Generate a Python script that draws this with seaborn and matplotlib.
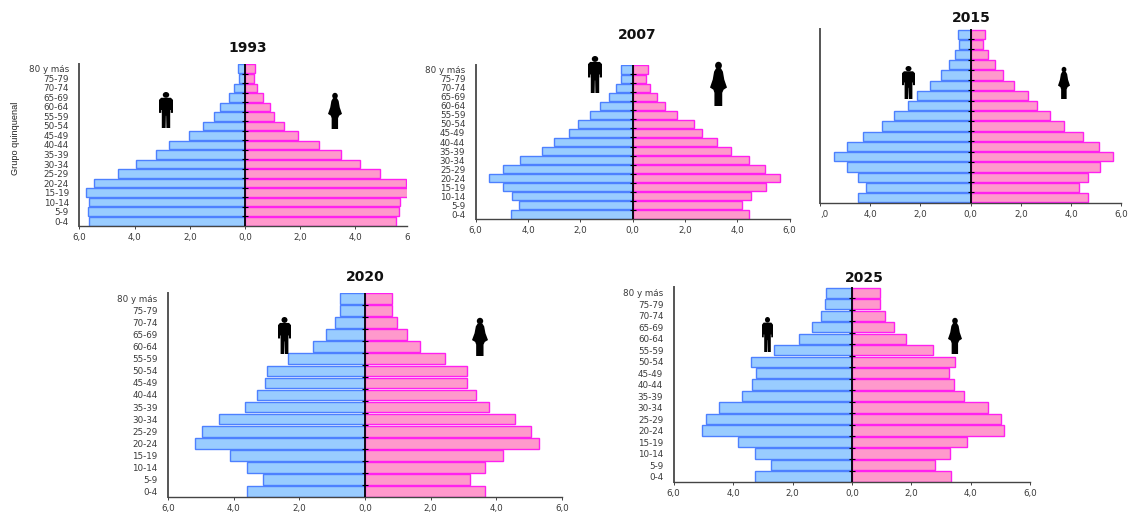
import matplotlib
matplotlib.use("Agg")
import matplotlib.pyplot as plt
import seaborn as sns
import pandas as pd
from matplotlib.patches import Polygon, Ellipse
from matplotlib.transforms import Affine2D

ages = ["80 y más", "75-79", "70-74", "65-69", "60-64", "55-59", "50-54", "45-49", "40-44",
        "35-39", "30-34", "25-29", "20-24", "15-19", "10-14", "5-9", "0-4"]

male_1993 = [0.25, 0.23, 0.39, 0.59, 0.89, 1.11, 1.53, 2.02, 2.75, 3.22, 3.96, 4.59, 5.47, 5.76, 5.64, 5.68, 5.64]
female_1993 = [0.37, 0.31, 0.43, 0.64, 0.89, 1.06, 1.43, 1.91, 2.69, 3.49, 4.17, 4.90, 5.82, 5.95, 5.62, 5.57, 5.47]
male_2007 = [0.44, 0.46, 0.63, 0.90, 1.24, 1.63, 2.09, 2.43, 2.99, 3.48, 4.30, 4.94, 5.49, 4.96, 4.60, 4.34, 4.65]
female_2007 = [0.59, 0.51, 0.67, 0.91, 1.24, 1.68, 2.34, 2.66, 3.23, 3.76, 4.46, 5.04, 5.62, 5.09, 4.54, 4.16, 4.46]
male_2015 = [0.50, 0.46, 0.62, 0.86, 1.20, 1.62, 2.14, 2.51, 3.04, 3.55, 4.30, 4.91, 5.44, 4.94, 4.49, 4.18, 4.47]
female_2015 = [0.57, 0.50, 0.69, 0.96, 1.27, 1.71, 2.27, 2.63, 3.17, 3.70, 4.49, 5.10, 5.68, 5.13, 4.67, 4.33, 4.66]
male_2020 = [0.77, 0.76, 0.91, 1.20, 1.59, 2.33, 3.00, 3.04, 3.29, 3.67, 4.45, 4.95, 5.19, 4.12, 3.58, 3.10, 3.58]
female_2020 = [0.83, 0.83, 0.97, 1.29, 1.69, 2.44, 3.11, 3.12, 3.39, 3.78, 4.56, 5.07, 5.29, 4.21, 3.67, 3.19, 3.67]
male_2025 = [0.89, 0.92, 1.05, 1.36, 1.77, 2.61, 3.39, 3.23, 3.35, 3.70, 4.48, 4.90, 5.04, 3.82, 3.25, 2.73, 3.26]
female_2025 = [0.95, 0.95, 1.11, 1.43, 1.83, 2.74, 3.45, 3.28, 3.42, 3.78, 4.57, 5.00, 5.12, 3.87, 3.30, 2.80, 3.32]

W, H = 1131, 512
sns.set_theme(style="white")
plt.rcParams["font.family"] = ["DejaVu Sans"]
fig = plt.figure(figsize=(W / 100, H / 100), dpi=100, facecolor="white")
px = Affine2D().scale(1 / W, -1 / H).translate(0, 1) + fig.transFigure

MALE_FILL, MALE_EDGE = "#99CCFF", "#4D80FF"
FEMALE_FILL, FEMALE_EDGE = "#FF99CC", "#FF20F0"
TXT = "#3a3a3a"
FONT = 6.3


def man(x0, x1, y0, y1):
    w, h = x1 - x0, y1 - y0
    pts = [(.15, .16), (.85, .16), (1, .22), (1, .58), (.84, .58), (.84, .50), (.80, .50), (.80, 1), (.53, 1),
           (.51, .66), (.49, .66), (.47, 1), (.20, 1), (.20, .50), (.16, .50), (.16, .58), (0, .58), (0, .22)]
    fig.add_artist(Polygon([(x0 + a * w, y0 + b * h) for a, b in pts], closed=True, fc="black", ec="none", transform=px))
    fig.add_artist(Ellipse((x0 + .5 * w, y0 + .08 * h), .46 * w, .16 * h, fc="black", ec="none", transform=px))


def woman(x0, x1, y0, y1):
    w, h = x1 - x0, y1 - y0
    pts = [(.36, .14), (.64, .14), (.76, .22), (.84, .40), (1, .58), (.80, .63), (.72, .70), (.72, 1), (.26, 1),
           (.26, .70), (.20, .63), (0, .58), (.16, .40), (.24, .22)]
    fig.add_artist(Polygon([(x0 + a * w, y0 + b * h) for a, b in pts], closed=True, fc="black", ec="none", transform=px))
    fig.add_artist(Ellipse((x0 + .5 * w, y0 + .08 * h), .40 * w, .17 * h, fc="black", ec="none", transform=px))


def pyramid(male, female, left, center, top, bottom, xmax=6.0, show_y=True):
    unit = (center - left) / 6.0
    x_right = center + xmax * unit
    ax = fig.add_axes([left / W, 1 - bottom / H, (x_right - left) / W, (bottom - top) / H])
    df = pd.DataFrame({"age": ages * 2,
                       "value": [-v for v in male] + list(female),
                       "sex": ["H"] * len(ages) + ["M"] * len(ages)})
    sns.barplot(data=df, y="age", x="value", hue="sex", order=ages, dodge=False, orient="h", ax=ax,
                palette={"H": MALE_FILL, "M": FEMALE_FILL}, legend=False, width=0.9,
                saturation=1, linewidth=0)
    n = len(ages)
    for patch, color in zip(ax.patches, [MALE_EDGE] * n + [FEMALE_EDGE] * n):
        patch.set_edgecolor(color)
        patch.set_linewidth(1.0)
    ax.set_xlim(-6, xmax)
    ax.set_ylim(n - 0.5, -0.5)
    ax.set_xlabel("")
    ax.set_ylabel("")
    sns.despine(ax=ax)
    ax.spines["left"].set_color("#555555")
    ax.spines["left"].set_linewidth(1.4)
    ax.spines["bottom"].set_color("#444444")
    ax.spines["bottom"].set_linewidth(1.0)
    ax.axvline(0, color="black", lw=1.3, zorder=5)
    ax.plot([0] * (n - 1), [i + 0.5 for i in range(n - 1)], ls="none", marker="_", ms=4, mew=0.8,
            color="black", zorder=6)
    ticks = [t for t in (-6, -4, -2, 0, 2, 4, 6) if t <= xmax]
    ax.set_xticks(ticks)
    ax.set_xticklabels([f"{abs(t):.1f}".replace(".", ",") for t in ticks], fontsize=FONT, color=TXT)
    ax.tick_params(axis="x", length=2.5, width=0.7, color="#444444", pad=2.5, bottom=True)
    if show_y:
        ax.set_yticks(range(n))
        ax.set_yticklabels(ages, fontsize=FONT, color=TXT)
        ax.tick_params(axis="y", length=0, pad=7.5)
    else:
        ax.set_yticks([])
    return ax


ax1 = pyramid(male_1993, female_1993, 79.3, 245, 64, 226, xmax=5.88)
ax1.text(5.88, -0.043, "6", transform=ax1.get_xaxis_transform(), ha="center", va="top",
         fontsize=FONT, color=TXT, clip_on=False)

ax2 = pyramid(male_2007, female_2007, 475.7, 632.7, 65, 219)
ax3 = pyramid(male_2015, female_2015, 820, 970.7, 29, 202.7, show_y=False)
ax3.set_xticklabels([",0"] + [t.get_text() for t in ax3.get_xticklabels()][1:], fontsize=FONT, color=TXT)
ax3.get_xticklabels()[0].set_ha("left")
ax4 = pyramid(male_2020, female_2020, 168, 365, 292.7, 497.3)
ax5 = pyramid(male_2025, female_2025, 673.7, 852, 287, 482.3)

for label, x, y in [("1993", 248, 47.5), ("2007", 636.7, 35), ("2015", 971.7, 18), ("2020", 365, 277), ("2025", 864, 277.5)]:
    fig.text(x / W, 1 - y / H, label, ha="center", va="center", fontsize=10, fontweight="bold", color="#111111")

fig.text(16 / W, 1 - 138 / H, "Grupo quinquenal", rotation=90, ha="center", va="center",
         fontsize=6.6, family="Liberation Sans", color="#222222")

man(159, 173, 92, 128)
woman(328, 342, 93, 129)
man(588, 602, 56, 93)
woman(710, 727, 62, 106)
man(902, 915, 66, 99)
woman(1058, 1070, 67, 99)
man(278, 291, 317, 354)
woman(472, 488, 318, 356)
man(762, 773, 317, 352)
woman(948, 962, 318, 354)

fig.savefig("out.png", dpi=100, facecolor="white")
